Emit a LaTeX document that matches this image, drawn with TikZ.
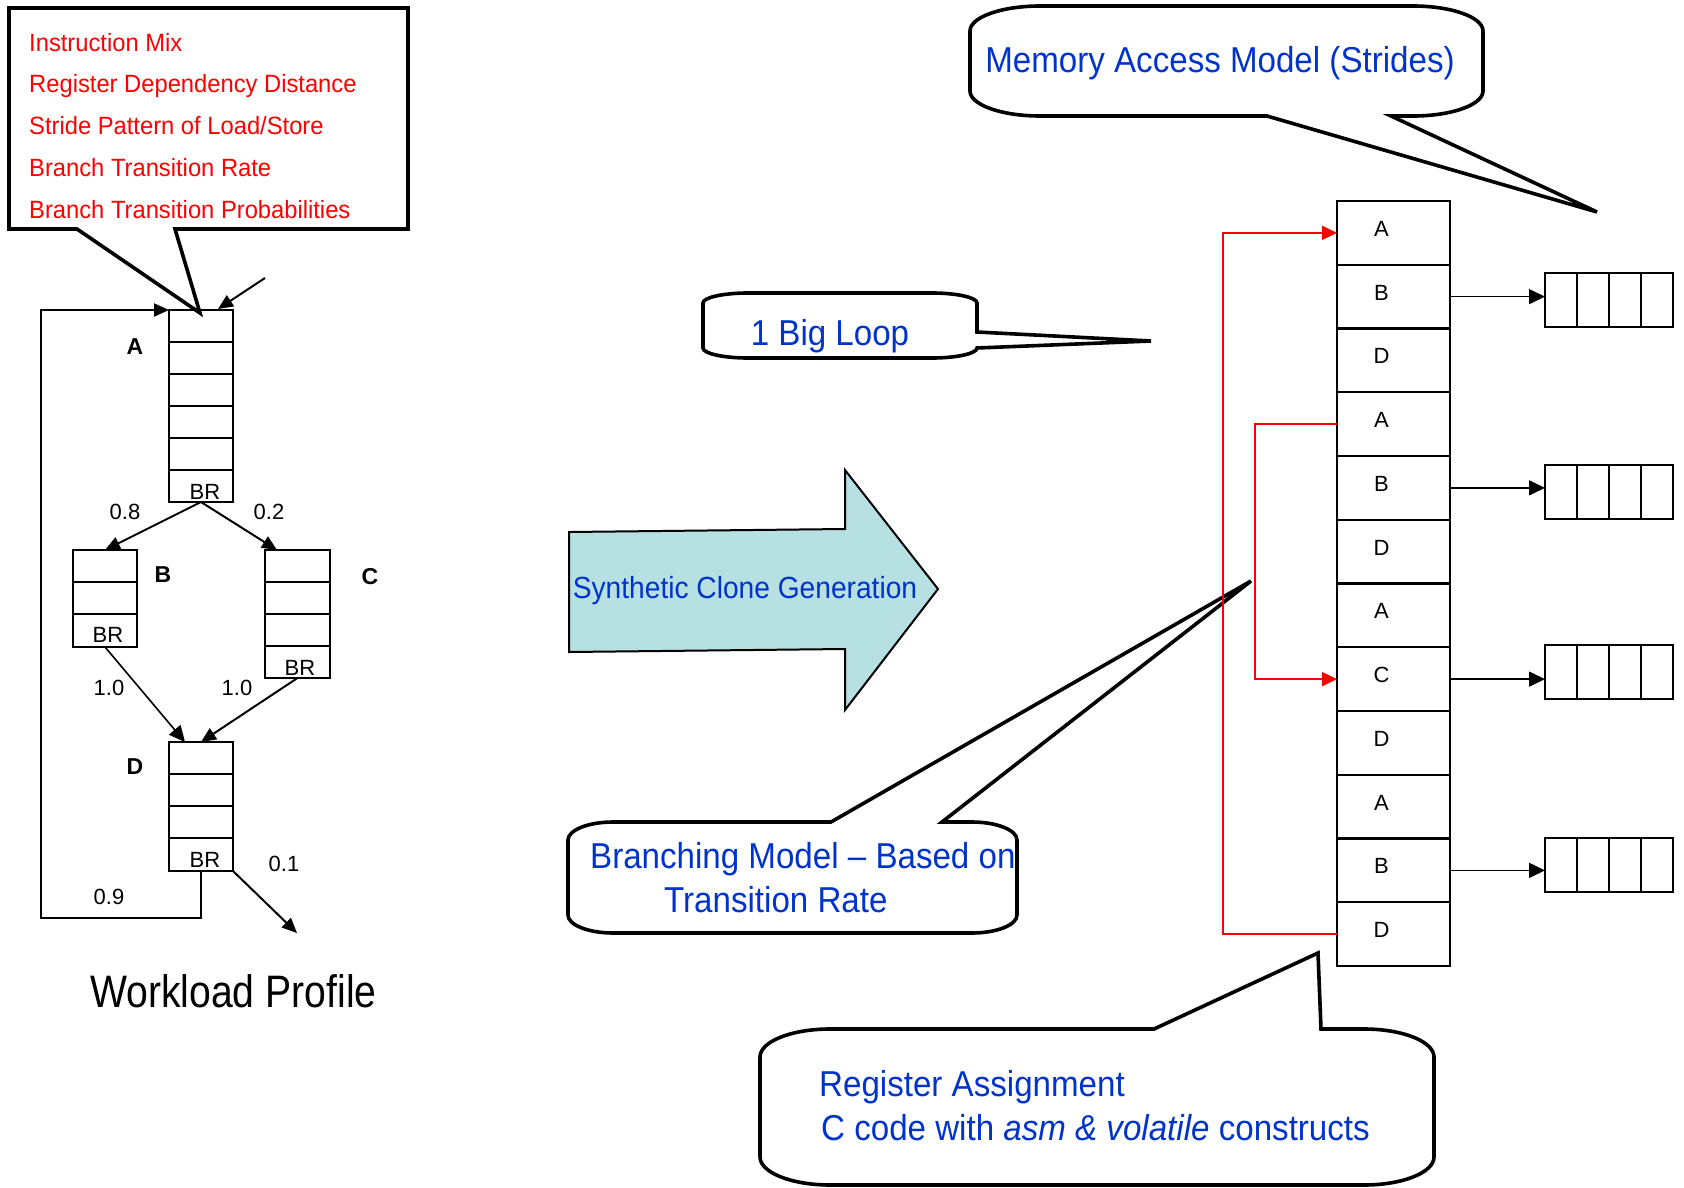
\documentclass[tikz,border=0pt]{standalone}
\usepackage{fontspec}
\setmainfont{Liberation Sans}
\newfontfamily\narrowA[FakeStretch=0.92]{Liberation Sans}
\newfontfamily\narrowR[FakeStretch=0.95]{Liberation Sans}
\newfontfamily\narrowB[FakeStretch=0.86]{Liberation Sans}
\usetikzlibrary{arrows.meta,calc}
\definecolor{calred}{RGB}{255,0,0}
\definecolor{calblue}{RGB}{0,51,204}
\definecolor{tealfill}{RGB}{183,224,226}
\tikzset{
  blk/.style={draw, line width=2pt, inner sep=0pt, outer sep=0pt},
  rowsep/.style={line width=2.6pt},
  arr/.style={line width=2pt, -{Triangle[length=15pt,width=13pt]}},
  thinarr/.style={line width=1.6pt, -{Triangle[length=16pt,width=15pt]}},
  redarr/.style={draw=calred, line width=1.6pt, -{Triangle[length=15pt,width=14pt]}},
  lab/.style={inner sep=0pt, font=\fontsize{22}{26}\selectfont},
  blab/.style={inner sep=0pt, font=\fontsize{23}{27}\selectfont\bfseries},
  redtxt/.style={inner sep=0pt, anchor=base west, text=calred, font=\narrowR\fontsize{25}{30}\selectfont},
  bluetxt/.style={inner sep=0pt, text=calblue, font=\narrowA\fontsize{36}{42}\selectfont},
  calloutln/.style={line width=3.6pt, line join=miter},
}
\begin{document}
\begin{tikzpicture}[x=1pt,y=-1pt]
\useasboundingbox (0,0) rectangle (1684,1188);

% ---------- Workload profile graph ----------
\node[blk, minimum width=64pt, minimum height=192pt] (A) at (201,406) {};
\foreach \k in {1,...,5} \draw[rowsep] ($(A.north west)+(0,32*\k)$) -- ($(A.north east)+(0,32*\k)$);
\node[blk, minimum width=64pt, minimum height=97pt] (B) at (105,598.5) {};
\foreach \k in {1,2} \draw[rowsep] ($(B.north west)+(0,32*\k)$) -- ($(B.north east)+(0,32*\k)$);
\node[blk, minimum width=65pt, minimum height=128pt] (C) at (297.5,614) {};
\foreach \k in {1,2,3} \draw[rowsep] ($(C.north west)+(0,32*\k)$) -- ($(C.north east)+(0,32*\k)$);
\node[blk, minimum width=64pt, minimum height=129pt] (D) at (201,806.5) {};
\foreach \k in {1,2,3} \draw[rowsep] ($(D.north west)+(0,32*\k)$) -- ($(D.north east)+(0,32*\k)$);

\node[lab] (brA) at (205,492) {BR};
\node[lab] (brB) at (108,635) {BR};
\node[lab] (brC) at (300,668) {BR};
\node[lab] (brD) at (205,860) {BR};

\node[blab] (labA) at (135,347) {A};
\node[blab] (labB) at (163,575) {B};
\node[blab] (labC) at (370,577) {C};
\node[blab] (labD) at (135,767) {D};

\node[lab] (p08) at (125,512) {0.8};
\node[lab] (p02) at (269,512) {0.2};
\node[lab] (p10a) at (109,688) {1.0};
\node[lab] (p10b) at (237,688) {1.0};
\node[lab] (p09) at (109,897) {0.9};
\node[lab] (p01) at (284,864) {0.1};

\draw[arr] (A.south) -- (B.north);
\draw[arr] (A.south) -- ($(C.north west)+(12,0)$);
\draw[thinarr] (B.south) -- ($(D.north west)+(16,0)$);
\draw[arr] (C.south) -- (D.north);
\coordinate (exit) at (297,933);
\draw[arr] (D.south east) -- (exit);
\coordinate (L1) at (41,918);
\coordinate (L2) at (41,310);
\draw[arr, line join=miter] (D.south) |- (L1) -- (L2) -- (A.north west);
\coordinate (in0) at (265,278);
\coordinate (in1) at (218,309);
\draw[arr] (in0) -- (in1);

% top-left callout
\draw[calloutln] (9,8) -- (408,8) -- (408,229) -- (175,229) -- (200,313) -- (77,229) -- (9,229) -- cycle;
\node[redtxt] (t1) at (29,52) {Instruction Mix};
\node[redtxt] (t2) at (29,93) {Register Dependency Distance};
\node[redtxt] (t3) at (29,135) {Stride Pattern of Load/Store};
\node[redtxt] (t4) at (29,176) {Branch Transition Rate};
\node[redtxt] (t5) at (29,218) {Branch Transition Probabilities};

\node[inner sep=0pt, anchor=base west, font=\narrowB\fontsize{45.5}{50}\selectfont] (wp) at (90,1007) {Workload Profile};

% ---------- big arrow ----------
\draw[fill=tealfill, line width=2pt, line join=miter] (569,532) -- (845,529) -- (845,470) -- (938,589) -- (845,710) -- (845,649) -- (569,652) -- cycle;
\node[bluetxt, font=\narrowA\fontsize{30.6}{36}\selectfont, anchor=base] (syn) at (745,598) {Synthetic Clone Generation};

% ---------- callouts ----------
\draw[calloutln] (1040,6) -- (1413,6) .. controls (1451.6,6) and (1483,17.2) .. (1483,31) -- (1483,91)
  .. controls (1483,104.8) and (1451.6,116) .. (1413,116) -- (1391,116) -- (1597,212) -- (1267,116) -- (1040,116)
  .. controls (1001.4,116) and (970,104.8) .. (970,91) -- (970,31) .. controls (970,17.2) and (1001.4,6) .. (1040,6) -- cycle;
\node[bluetxt, anchor=base] (memt) at (1220,73) {Memory Access Model (Strides)};

\draw[calloutln] (748,293) -- (932,293) .. controls (956.8,293) and (977,297.5) .. (977,303) -- (977,332) -- (1151,341) -- (977,348)
  .. controls (977,353.5) and (956.8,358) .. (932,358) -- (748,358) .. controls (723.2,358) and (703,353.5) .. (703,348)
  -- (703,303) .. controls (703,297.5) and (723.2,293) .. (748,293) -- cycle;
\node[bluetxt, anchor=base] (loopt) at (830,345) {1 Big Loop};

\draw[calloutln] (613,822) -- (831,822) -- (1251,581) -- (942,822) -- (972,822) .. controls (996.8,822) and (1017,830.1) .. (1017,840)
  -- (1017,915) .. controls (1017,924.9) and (996.8,933) .. (972,933) -- (613,933) .. controls (588.2,933) and (568,924.9) .. (568,915)
  -- (568,840) .. controls (568,830.1) and (588.2,822) .. (613,822) -- cycle;
\node[bluetxt, anchor=base west] (br1) at (590,868) {Branching Model \textendash{} Based on};
\node[bluetxt, anchor=base west] (br2) at (664,912) {Transition Rate};

\draw[calloutln] (830,1029) -- (1154,1029) -- (1318,953) -- (1321,1029) -- (1364,1029) .. controls (1402.6,1029) and (1434,1041.5) .. (1434,1057)
  -- (1434,1157) .. controls (1434,1172.5) and (1402.6,1185) .. (1364,1185) -- (830,1185) .. controls (791.4,1185) and (760,1172.5) .. (760,1157)
  -- (760,1057) .. controls (760,1041.5) and (791.4,1029) .. (830,1029) -- cycle;
\node[bluetxt, anchor=base west] (reg1) at (819,1096) {Register Assignment};
\node[bluetxt, anchor=base west] (reg2) at (821,1140) {C code with {\itshape asm \& volatile} constructs};

% ---------- synthetic clone column ----------
\foreach \t [count=\i] in {A,B,D,A,B,D,A,C,D,A,B,D} {
  \node[blk, line width=2.2pt, minimum width=113pt, minimum height=63.75pt] (r\i) at (1393.5,{201+63.75*(\i-0.5)}) {};
  \node[lab] (tl\i) at ($(r\i.center)+(-12,-4)$) {\t};
}
\draw[redarr] (r12.west) -- ++(-114,0) |- (r1.west);
\draw[redarr] (r4.west) -- ++(-82,0) |- (r8.west);

\node[blk, minimum width=128pt, minimum height=54pt] (m1) at (1609,300) {};
\node[blk, minimum width=128pt, minimum height=54pt] (m2) at (1609,492) {};
\node[blk, minimum width=128pt, minimum height=54pt] (m3) at (1609,672) {};
\node[blk, minimum width=128pt, minimum height=54pt] (m4) at (1609,864.5) {};
\foreach \m in {m1,m2,m3,m4} {
  \foreach \k in {1,2,3} \draw[rowsep] ($(\m.north west)+(32*\k,0)$) -- ($(\m.south west)+(32*\k,0)$);
}
\draw[thinarr] (r2.east) -- (r2.east -| m1.west);
\draw[thinarr] (r5.east) -- (r5.east -| m2.west);
\draw[thinarr] (r8.east) -- (r8.east -| m3.west);
\draw[thinarr] (r11.east) -- (r11.east -| m4.west);
\end{tikzpicture}
\end{document}
